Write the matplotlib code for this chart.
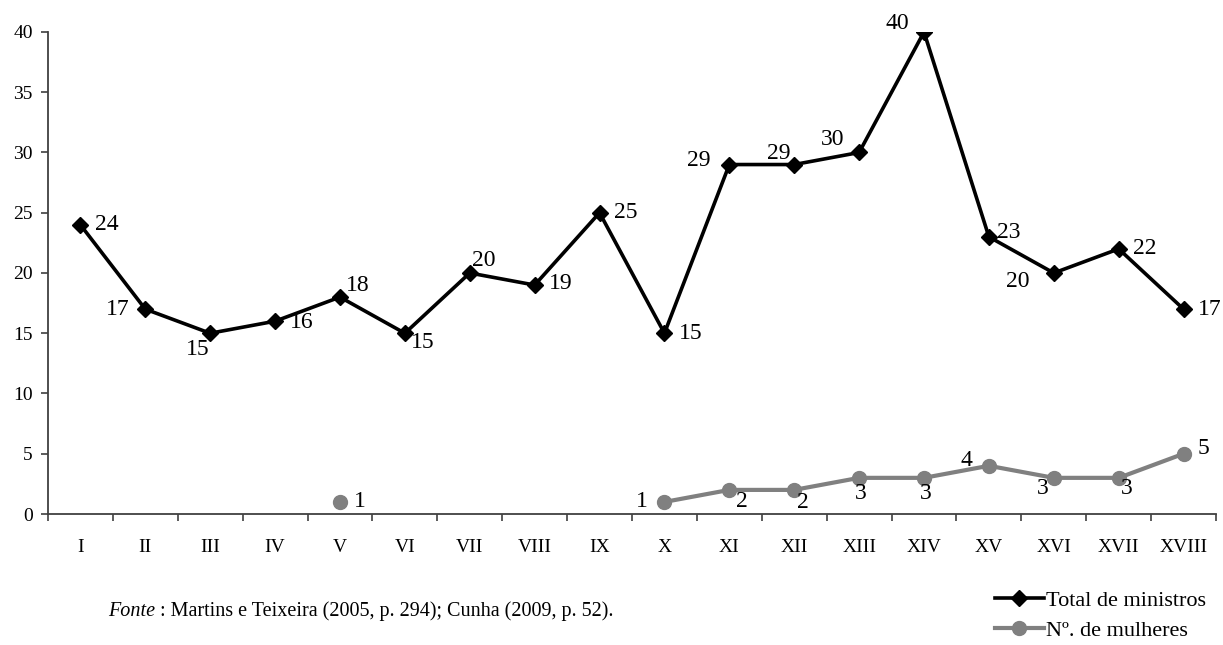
import matplotlib.pyplot as plt
import numpy as np

plt.rcParams['font.family'] = ['Liberation Serif', 'DejaVu Serif']

categorias = ['I', 'II', 'III', 'IV', 'V', 'VI', 'VII', 'VIII', 'IX',
              'X', 'XI', 'XII', 'XIII', 'XIV', 'XV', 'XVI', 'XVII', 'XVIII']
total = [24, 17, 15, 16, 18, 15, 20, 19, 25, 15, 29, 29, 30, 40, 23, 20, 22, 17]
mulheres = [None, None, None, None, 1, None, None, None, None,
            1, 2, 2, 3, 3, 4, 3, 3, 5]

# position des étiquettes (décalage en points)
pos_total = [(19, 0), (-20, 0), (-9, -12), (19, -1), (13, 8), (13, -7),
             (10, 9), (19, 1), (19, 0), (19, 0), (-22, 3), (-11, 8),
             (-19, 9), (-19, 6), (14, 3), (-26, -6), (19, 0), (19, 0)]
pos_mulheres = [None, None, None, None, (14, 0), None, None, None, None,
                (-16, 0), (9, -8), (6, -9), (1, -11), (1, -11), (-16, 4),
                (-8, -8), (6, -8), (14, 4)]

x = np.arange(len(categorias))
m = np.array([np.nan if v is None else v for v in mulheres], dtype=float)

fig = plt.figure(figsize=(12.23, 6.45), dpi=100)
ax = fig.add_axes([0.0392, 0.2031, 0.9551, 0.7473])

ax.plot(x, total, color='black', lw=2.6, marker='D', ms=8, label='Total de ministros', zorder=3)
ax.plot(x, m, color='#808080', lw=3, marker='o', ms=10, label='Nº. de mulheres', zorder=3)

for i, v in enumerate(total):
    ax.annotate(str(v), (x[i], v), xytext=pos_total[i], textcoords='offset points',
                ha='center', va='center', fontsize=17)
for i, v in enumerate(mulheres):
    if v is None:
        continue
    ax.annotate(str(v), (x[i], v), xytext=pos_mulheres[i], textcoords='offset points',
                ha='center', va='center', fontsize=17)

ax.set_xlim(-0.5, len(categorias) - 0.5)
ax.set_ylim(0, 40)
ax.set_yticks(range(0, 41, 5))
ax.set_xticks(x)
ax.set_xticklabels(categorias)
ax.set_xticks(np.arange(-0.5, len(categorias), 1), minor=True)
ax.tick_params(axis='x', which='major', length=0, pad=18, labelsize=14)
ax.tick_params(axis='x', which='minor', length=5, width=1.2, color='#404040', direction='out')
ax.tick_params(axis='y', length=5, width=1.2, color='#404040', labelsize=14, pad=6)
for s in ['top', 'right']:
    ax.spines[s].set_visible(False)
for s in ['left', 'bottom']:
    ax.spines[s].set_color('#404040')
    ax.spines[s].set_linewidth(1.3)

t1 = fig.text(0.0883, 0.0527, 'Fonte', fontsize=14.5, va='center', style='italic')
ax.annotate(' : Martins e Teixeira (2005, p. 294); Cunha (2009, p. 52).',
            xy=(1, 0), xycoords=t1, ha='left', va='bottom', fontsize=14.5,
            annotation_clip=False)

fig.legend(loc='center left', bbox_to_anchor=(0.8136, 0.0457), frameon=False, fontsize=16,
           handlelength=2.2, handletextpad=0.1, labelspacing=0.45, borderpad=0,
           borderaxespad=0)

fig.savefig('out.png', dpi=100)
